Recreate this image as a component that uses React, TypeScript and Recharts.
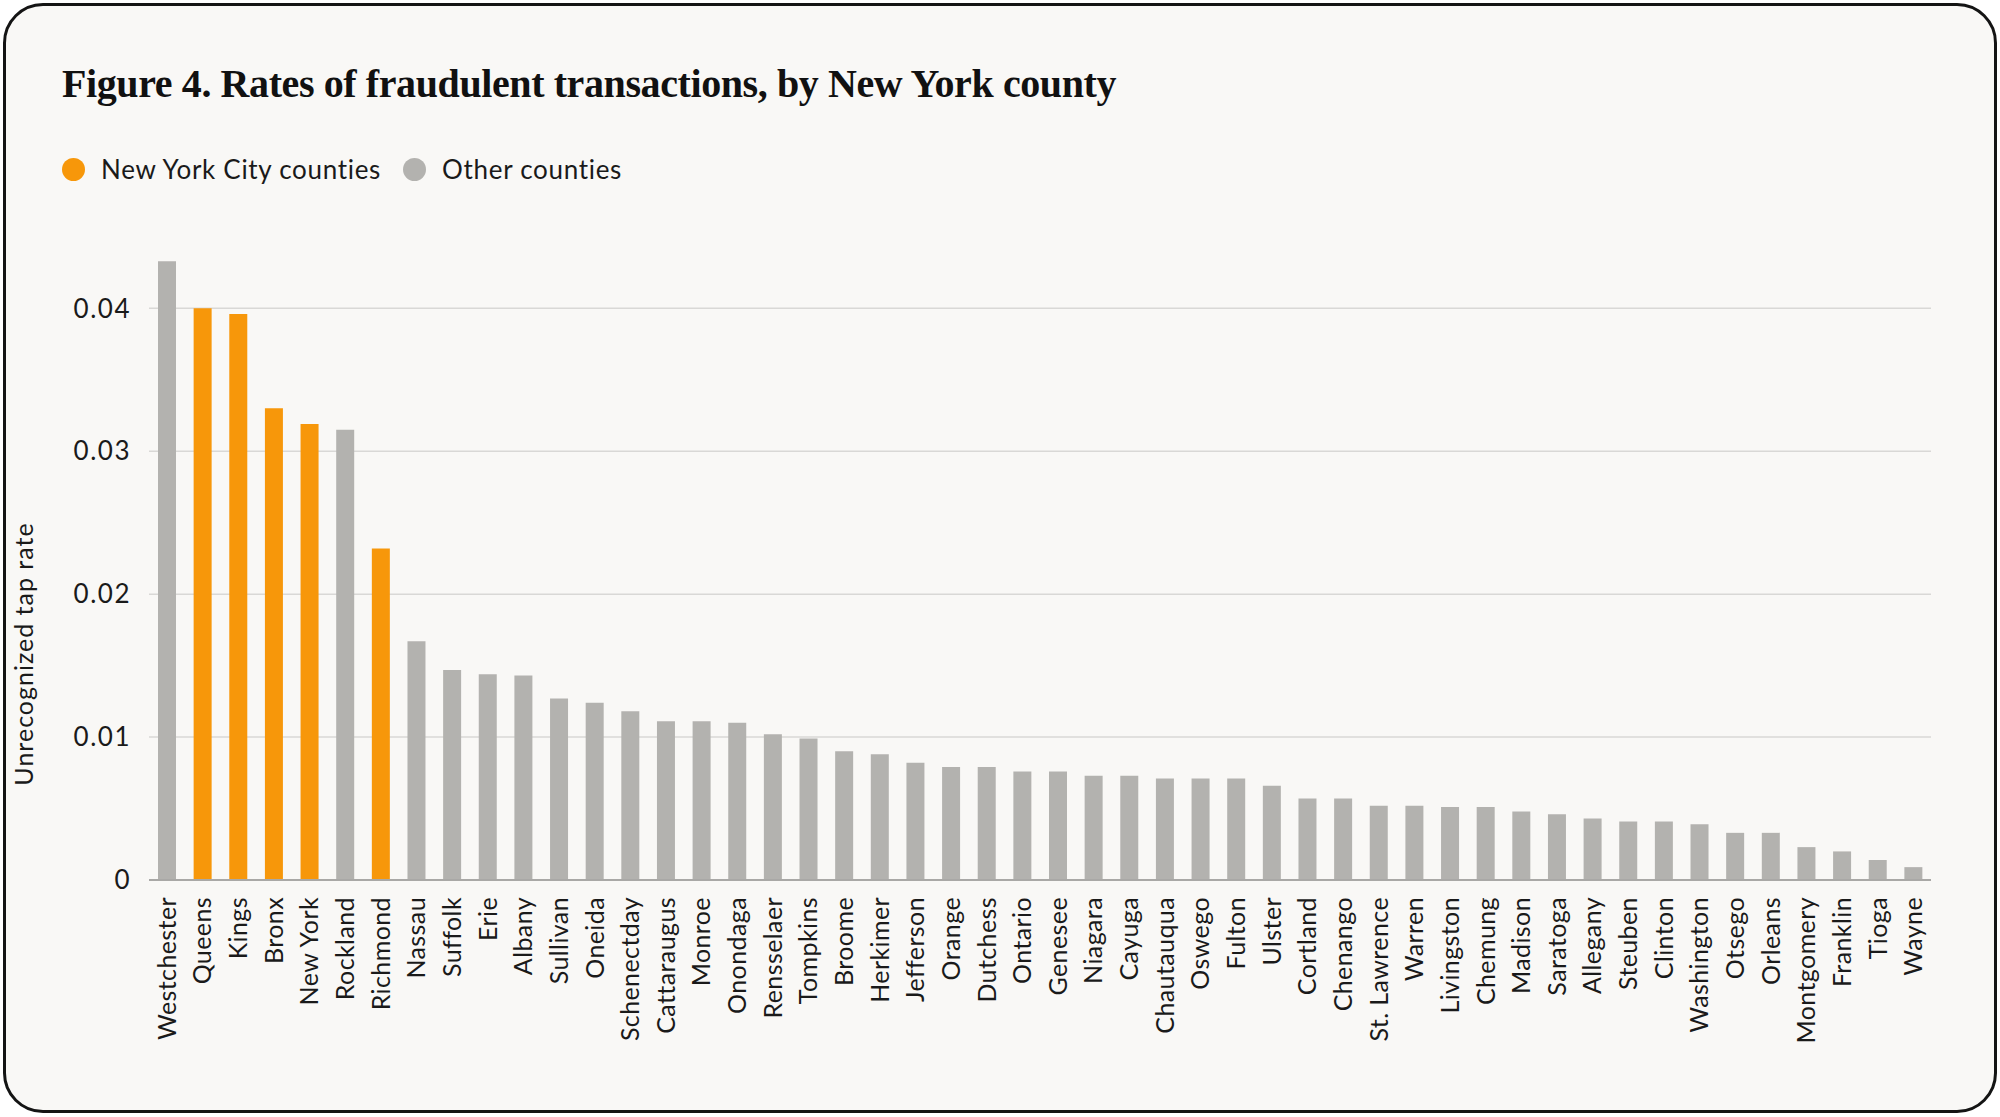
import { BarChart, Bar, XAxis, YAxis, CartesianGrid, Cell } from 'recharts';

const counties = [
  'Westchester', 'Queens', 'Kings', 'Bronx', 'New York', 'Rockland', 'Richmond', 'Nassau', 'Suffolk', 'Erie',
  'Albany', 'Sullivan', 'Oneida', 'Schenectday', 'Cattaraugus', 'Monroe', 'Onondaga', 'Rensselaer', 'Tompkins', 'Broome',
  'Herkimer', 'Jefferson', 'Orange', 'Dutchess', 'Ontario', 'Genesee', 'Niagara', 'Cayuga', 'Chautauqua', 'Oswego',
  'Fulton', 'Ulster', 'Cortland', 'Chenango', 'St. Lawrence', 'Warren', 'Livingston', 'Chemung', 'Madison', 'Saratoga',
  'Allegany', 'Steuben', 'Clinton', 'Washington', 'Otsego', 'Orleans', 'Montgomery', 'Franklin', 'Tioga', 'Wayne',
];

const rates = [
  0.0433, 0.04, 0.0396, 0.033, 0.0319, 0.0315, 0.0232, 0.0167, 0.0147, 0.0144,
  0.0143, 0.0127, 0.0124, 0.0118, 0.0111, 0.0111, 0.011, 0.0102, 0.0099, 0.009,
  0.0088, 0.0082, 0.0079, 0.0079, 0.0076, 0.0076, 0.0073, 0.0073, 0.0071, 0.0071,
  0.0071, 0.0066, 0.0057, 0.0057, 0.0052, 0.0052, 0.0051, 0.0051, 0.0048, 0.0046,
  0.0043, 0.0041, 0.0041, 0.0039, 0.0033, 0.0033, 0.0023, 0.002, 0.0014, 0.0009,
];

const nycCounties = ['Queens', 'Kings', 'Bronx', 'New York', 'Richmond'];

const yTicks = [0, 0.01, 0.02, 0.03, 0.04];

const ORANGE = '#F7970A';
const GRAY = '#B3B2AF';
const SANS = 'Lato, "Noto Sans", sans-serif';

const data = counties.map((county, i) => ({ county, rate: rates[i] }));

const CountyTick = ({ x, y, payload }: any) => (
  <text
    x={x}
    y={y}
    transform={`rotate(-90, ${x}, ${y})`}
    textAnchor="end"
    dy="0.36em"
    fontSize={25}
    letterSpacing={0.4}
    fontFamily={SANS}
    fill="#1a1a1a"
  >
    {payload.value}
  </text>
);

// y axis title sits lower than the plot middle in the original
const YTitle = () => (
  <text
    x={24}
    y={654}
    transform="rotate(-90, 24, 654)"
    textAnchor="middle"
    dy="0.36em"
    fontSize={25}
    letterSpacing={1}
    fontFamily={SANS}
    fill="#1a1a1a"
  >
    Unrecognized tap rate
  </text>
);

export default function App() {
  return (
    <div style={{ position: 'absolute', left: 0, top: 0, width: 2000, height: 1117, background: '#fff' }}>
      <div
        style={{
          position: 'absolute',
          left: 3,
          top: 3,
          width: 1988,
          height: 1104,
          border: '3px solid #141414',
          borderRadius: 40,
          background: '#F9F8F6',
        }}
      />
      <div
        style={{
          position: 'absolute',
          left: 62,
          top: 60,
          fontFamily: '"Liberation Serif", serif',
          fontWeight: 700,
          fontSize: 40,
          color: '#111',
          whiteSpace: 'nowrap',
          letterSpacing: -0.4,
        }}
      >
        Figure 4. Rates of fraudulent transactions, by New York county
      </div>
      {/* legend */}
      <div
        style={{
          position: 'absolute',
          left: 62,
          top: 153,
          display: 'flex',
          alignItems: 'center',
          fontFamily: SANS,
          fontSize: 26,
          letterSpacing: 0.7,
          color: '#1a1a1a',
          whiteSpace: 'nowrap',
        }}
      >
        <span style={{ width: 23, height: 23, borderRadius: '50%', background: ORANGE, marginRight: 16 }} />
        <span style={{ marginRight: 22 }}>New York City counties</span>
        <span style={{ width: 23, height: 23, borderRadius: '50%', background: GRAY, marginRight: 16 }} />
        <span>Other counties</span>
      </div>
      <div style={{ position: 'absolute', left: 0, top: 0 }}>
        <BarChart
          width={2000}
          height={1117}
          data={data}
          margin={{ top: 244, right: 69, left: 0, bottom: 0 }}
        >
          <CartesianGrid vertical={false} horizontalValues={yTicks} stroke="#D9D8D6" strokeWidth={1.5} />
          <XAxis
            dataKey="county"
            interval={0}
            tick={<CountyTick />}
            tickLine={false}
            tickSize={0}
            tickMargin={17}
            height={237}
            axisLine={{ stroke: '#A9A8A6', strokeWidth: 2 }}
          />
          <YAxis
            width={149}
            domain={[0, 0.0445]}
            ticks={yTicks}
            tickFormatter={(v: number) => (v === 0 ? '0' : String(v))}
            tick={{ fontSize: 26, letterSpacing: 1.5, fontFamily: SANS, fill: '#1a1a1a' }}
            tickLine={false}
            tickSize={0}
            tickMargin={18}
            axisLine={false}
            label={<YTitle />}
          />
          <Bar dataKey="rate" barSize={18} isAnimationActive={false}>
            {data.map((d, i) => (
              <Cell key={`cell-${i}`} fill={nycCounties.includes(d.county) ? ORANGE : GRAY} />
            ))}
          </Bar>
        </BarChart>
      </div>
    </div>
  );
}
